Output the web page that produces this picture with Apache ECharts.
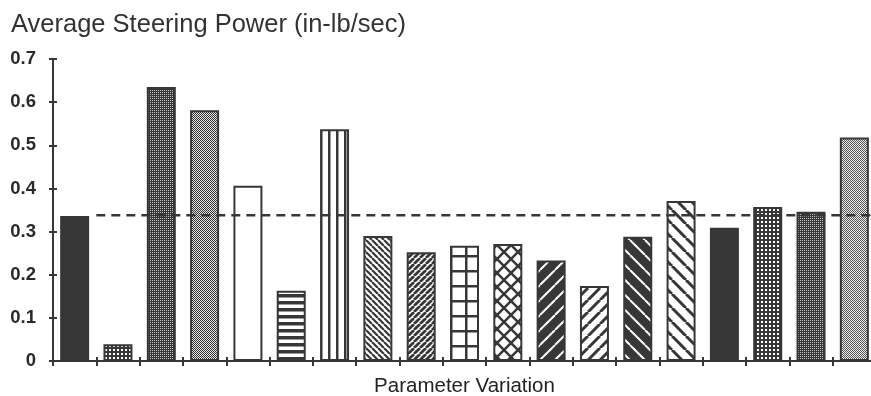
<!DOCTYPE html>
<html>
<head>
<meta charset="utf-8">
<script src="https://cdn.jsdelivr.net/npm/echarts@6/dist/echarts.min.js"></script>
<style>
  html, body { margin: 0; padding: 0; background: #fff; }
  #chart { width: 871px; height: 396px; }
</style>
</head>
<body>
<div id="chart"></div>
<script>
// data
var categories = ['V1', 'V2', 'V3', 'V4', 'V5', 'V6', 'V7', 'V8', 'V9', 'V10',
                  'V11', 'V12', 'V13', 'V14', 'V15', 'V16', 'V17', 'V18', 'V19'];
var steeringPower = [0.336, 0.039, 0.635, 0.581, 0.406, 0.163, 0.537, 0.290, 0.252, 0.267,
                     0.271, 0.233, 0.174, 0.288, 0.371, 0.309, 0.357, 0.346, 0.518];
var baselineLevel = 0.338;     // dashed reference line
var baselineSpan = [1, 19];    // in category units, from end of first bar to the right edge

// fill of each bar (style only)
var barFills = ['solid', 'sparseDots', 'fineDots', 'checker', 'white', 'hlines', 'vlines',
                'backDense', 'slashDense', 'grid', 'cross', 'darkSlash', 'slashWide',
                'darkBack', 'backWide', 'solid', 'sparseDots', 'fineDots', 'lightChecker'];

var INK = '#373737';

function tile(w, h, draw) {
  var c = document.createElement('canvas');
  c.width = w; c.height = h;
  var ctx = c.getContext('2d');
  draw(ctx, w, h);
  return { image: c, repeat: 'repeat' };
}

function diag(ctx, s, dir, width, color) {
  ctx.strokeStyle = color;
  ctx.lineWidth = width;
  ctx.beginPath();
  for (var k = -1; k <= 1; k++) {
    if (dir == '/') { ctx.moveTo(k * s, s); ctx.lineTo(k * s + s, 0); }
    else { ctx.moveTo(k * s, 0); ctx.lineTo(k * s + s, s); }
  }
  ctx.stroke();
}

function makeFill(kind) {
  switch (kind) {
    case 'solid': return INK;
    case 'white': return '#ffffff';
    case 'sparseDots':
      return tile(4, 4, function (ctx) {
        ctx.fillStyle = INK; ctx.fillRect(0, 0, 4, 4);
        ctx.fillStyle = '#fff'; ctx.fillRect(1, 1, 2, 2);
      });
    case 'fineDots':
      return tile(2, 2, function (ctx) {
        ctx.fillStyle = INK; ctx.fillRect(0, 0, 2, 2);
        ctx.fillStyle = '#c4c4c4'; ctx.fillRect(0, 0, 1, 1);
      });
    case 'checker':
      return tile(2, 2, function (ctx) {
        ctx.fillStyle = '#e0e0e0'; ctx.fillRect(0, 0, 2, 2);
        ctx.fillStyle = INK; ctx.fillRect(0, 0, 1, 1); ctx.fillRect(1, 1, 1, 1);
      });
    case 'lightChecker':
      return tile(2, 2, function (ctx) {
        ctx.fillStyle = '#ececec'; ctx.fillRect(0, 0, 2, 2);
        ctx.fillStyle = '#555'; ctx.fillRect(0, 0, 1, 1); ctx.fillRect(1, 1, 1, 1);
      });
    case 'hlines':
      return tile(1, 7, function (ctx) {
        ctx.fillStyle = '#fff'; ctx.fillRect(0, 0, 1, 7);
        ctx.fillStyle = INK; ctx.fillRect(0, 0, 1, 3.5);
      });
    case 'vlines':
      return tile(8, 1, function (ctx) {
        ctx.fillStyle = '#fff'; ctx.fillRect(0, 0, 8, 1);
        ctx.fillStyle = INK; ctx.fillRect(0, 0, 2.5, 1);
      });
    case 'backDense':
      return tile(6, 6, function (ctx) {
        ctx.fillStyle = '#fff'; ctx.fillRect(0, 0, 6, 6);
        diag(ctx, 6, '\\', 2.2, INK);
      });
    case 'slashDense':
      return tile(6, 6, function (ctx) {
        ctx.fillStyle = '#fff'; ctx.fillRect(0, 0, 6, 6);
        diag(ctx, 6, '/', 2.8, INK);
      });
    case 'grid':
      return tile(15, 15, function (ctx) {
        ctx.fillStyle = '#fff'; ctx.fillRect(0, 0, 15, 15);
        ctx.fillStyle = INK; ctx.fillRect(0, 0, 2.5, 15); ctx.fillRect(0, 0, 15, 2.5);
      });
    case 'cross':
      return tile(14, 14, function (ctx) {
        ctx.fillStyle = '#fff'; ctx.fillRect(0, 0, 14, 14);
        diag(ctx, 14, '/', 2.5, INK);
        diag(ctx, 14, '\\', 2.5, INK);
      });
    case 'darkSlash':
      return tile(15, 15, function (ctx) {
        ctx.fillStyle = INK; ctx.fillRect(0, 0, 15, 15);
        diag(ctx, 15, '/', 2, '#fff');
      });
    case 'darkBack':
      return tile(15, 15, function (ctx) {
        ctx.fillStyle = INK; ctx.fillRect(0, 0, 15, 15);
        diag(ctx, 15, '\\', 2, '#fff');
      });
    case 'slashWide':
      return tile(12, 12, function (ctx) {
        ctx.fillStyle = '#fff'; ctx.fillRect(0, 0, 12, 12);
        diag(ctx, 12, '/', 3, INK);
      });
    case 'backWide':
      return tile(14, 14, function (ctx) {
        ctx.fillStyle = '#fff'; ctx.fillRect(0, 0, 14, 14);
        diag(ctx, 14, '\\', 3, INK);
      });
  }
  return INK;
}

var barData = steeringPower.map(function (v, i) {
  return { value: v, itemStyle: { color: makeFill(barFills[i]) } };
});

var chart = echarts.init(document.getElementById('chart'));
var FONT = "'Liberation Sans', Arial, Helvetica, sans-serif";

var option = {
  animation: false,
  backgroundColor: '#fff',
  title: {
    text: 'Average Steering Power (in-lb/sec)',
    left: 11,
    top: 12,
    padding: 0,
    textStyle: { fontFamily: FONT, fontSize: 25.5, fontWeight: 'normal', color: '#333' }
  },
  grid: { left: 53, right: -5, top: 59, bottom: 35, outerBoundsMode: 'none' },
  xAxis: [
    {
      type: 'category',
      data: categories,
      boundaryGap: true,
      name: 'Parameter Variation',
      nameLocation: 'middle',
      nameGap: 15,
      nameTextStyle: { fontFamily: FONT, fontSize: 20.5, color: '#222' },
      axisLine: { lineStyle: { color: INK, width: 2 } },
      axisTick: { show: true, interval: 0, length: 5, lineStyle: { color: INK, width: 2 } },
      axisLabel: { show: false },
      splitLine: { show: false }
    },
    {
      // same span in category units: used for the dashed line and the inner half of the ticks
      type: 'value',
      min: 0,
      max: categories.length,
      interval: 1,
      position: 'bottom',
      axisLine: { show: false },
      axisTick: { show: true, inside: true, length: 4, lineStyle: { color: INK, width: 2 } },
      axisLabel: { show: false },
      splitLine: { show: false }
    }
  ],
  yAxis: [
    {
      type: 'value',
      min: 0,
      max: 0.7,
      interval: 0.1,
      axisLine: { show: true, lineStyle: { color: INK, width: 2 } },
      axisTick: { show: true, length: 4, lineStyle: { color: INK, width: 2 } },
      axisLabel: {
        margin: 17,
        fontFamily: FONT,
        fontSize: 18.5,
        fontWeight: 'bold',
        color: '#2a2a2a',
        formatter: function (v) { return v === 0 ? '0' : v.toFixed(1); }
      },
      splitLine: { show: false }
    },
    {
      type: 'value',
      min: 0,
      max: 0.7,
      interval: 0.1,
      position: 'left',
      offset: 0,
      axisLine: { show: false },
      axisTick: { show: true, inside: true, length: 4, lineStyle: { color: INK, width: 2 } },
      axisLabel: { show: false },
      splitLine: { show: false }
    }
  ],
  series: [
    {
      type: 'bar',
      xAxisIndex: 0,
      yAxisIndex: 0,
      barWidth: 29,
      data: barData,
      itemStyle: { borderColor: INK, borderWidth: 2 },
      z: 2
    },
    {
      type: 'line',
      xAxisIndex: 1,
      yAxisIndex: 0,
      data: [[baselineSpan[0], baselineLevel], [baselineSpan[1], baselineLevel]],
      symbol: 'none',
      lineStyle: { color: INK, width: 2.5, type: [9, 6] },
      z: 3
    }
  ]
};

chart.setOption(option);
</script>
</body>
</html>
